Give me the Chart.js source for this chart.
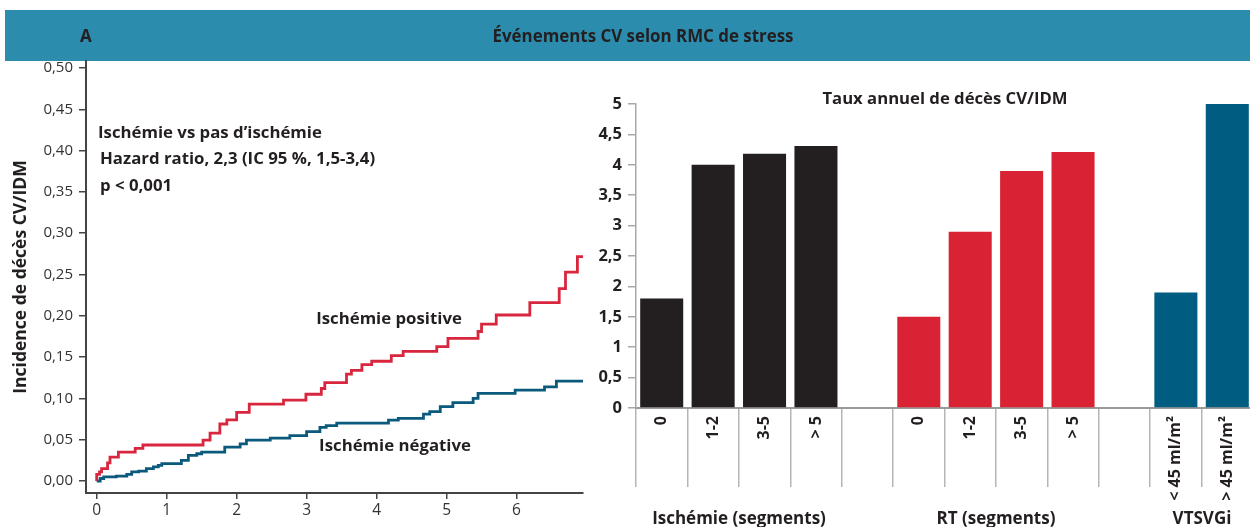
<!DOCTYPE html>
<html><head><meta charset="utf-8">
<script src="https://cdn.jsdelivr.net/npm/chart.js@4"></script>
<style>
html,body{margin:0;padding:0;width:1250px;height:527px;overflow:hidden;background:#fff;font-family:"Open Sans", sans-serif;}
#banner{position:absolute;left:5px;top:10px;width:1245px;height:51px;background:#2b8cae;}
.t{position:absolute;white-space:nowrap;font-weight:bold;color:#231f20;transform:translateY(-50%);}
.c{transform:translate(-50%,-50%);}
canvas{position:absolute;}
</style></head><body>
<div id="banner"></div>
<canvas id="km" width="600" height="527" style="left:0;top:0"></canvas>
<canvas id="bars" width="700" height="527" style="left:560px;top:0"></canvas>
<div class="t" style="left:80px;top:35px;font-size:17px">A</div>
<div class="t c" style="left:643px;top:35px;font-size:16.9px">Événements CV selon RMC de stress</div>
<div class="t" style="left:98px;top:131px;font-size:16.8px">Ischémie vs pas d’ischémie</div>
<div class="t" style="left:100px;top:157px;font-size:16.8px">Hazard ratio, 2,3 (IC 95 %, 1,5-3,4)</div>
<div class="t" style="left:100px;top:184px;font-size:16.8px">p &lt; 0,001</div>
<div class="t c" style="left:389px;top:317px;font-size:16.8px">Ischémie positive</div>
<div class="t c" style="left:395px;top:444px;font-size:16.8px">Ischémie négative</div>
<div class="t c" style="left:945px;top:97px;font-size:16.7px">Taux annuel de décès CV/IDM</div>
<div class="t c" style="left:739px;top:517px;font-size:17px">Ischémie (segments)</div>
<div class="t c" style="left:996px;top:517px;font-size:17px">RT (segments)</div>
<div class="t c" style="left:1202px;top:517px;font-size:17px">VTSVGi</div>
<script>
// ---- Kaplan-Meier data (years, cumulative incidence) ----
const redTimes = [0, 0, 0.04, 0.07, 0.155, 0.19, 0.31, 0.55, 0.66, 1.52, 1.62, 1.76, 1.86, 2.0, 2.18, 2.67, 2.99, 3.21, 3.26, 3.57, 3.64, 3.79, 3.93, 4.21, 4.38, 4.86, 5.02, 5.45, 5.50, 5.71, 6.19, 6.61, 6.70, 6.87, 6.96];
const redValues = [0, 0.008, 0.011, 0.015, 0.022, 0.029, 0.035, 0.0396, 0.0436, 0.0496, 0.058, 0.069, 0.074, 0.083, 0.093, 0.098, 0.105, 0.112, 0.119, 0.1295, 0.134, 0.141, 0.145, 0.1517, 0.157, 0.1626, 0.1727, 0.181, 0.190, 0.201, 0.216, 0.233, 0.253, 0.2716, 0.2716];
const blueTimes = [0, 0.05, 0.10, 0.28, 0.43, 0.50, 0.60, 0.71, 0.81, 0.88, 0.93, 1.21, 1.31, 1.43, 1.50, 1.83, 2.05, 2.14, 2.48, 2.76, 3.00, 3.19, 3.28, 3.43, 4.17, 4.31, 4.67, 4.76, 4.91, 5.09, 5.38, 5.45, 5.98, 6.40, 6.57, 6.96];
const blueValues = [0, 0.003, 0.005, 0.006, 0.008, 0.011, 0.012, 0.015, 0.017, 0.019, 0.021, 0.025, 0.031, 0.033, 0.035, 0.041, 0.045, 0.0496, 0.052, 0.055, 0.0597, 0.065, 0.067, 0.070, 0.0738, 0.0759, 0.081, 0.084, 0.090, 0.0948, 0.100, 0.106, 0.110, 0.114, 0.121, 0.121];
const kmXTicks = [0, 1, 2, 3, 4, 5, 6];
const kmYTicks = [0, 0.05, 0.10, 0.15, 0.20, 0.25, 0.30, 0.35, 0.40, 0.45, 0.50];

// ---- Bar chart data ----
const barCategories = ['0', '1-2', '3-5', '> 5', '', '0', '1-2', '3-5', '> 5', '', '< 45 ml/m²', '> 45 ml/m²'];
const ischemieRates = [1.8, 4.0, 4.18, 4.31];
const rtRates = [1.5, 2.9, 3.9, 4.21];
const vtsvgiRates = [1.9, 5.0];
const barYTicks = [0, 0.5, 1, 1.5, 2, 2.5, 3, 3.5, 4, 4.5, 5];

const BLACK = '#231f20', RED = '#d92233', TEAL = '#005c80';
const FONT = '"Open Sans"';

const toPts = (ts, vs) => ts.map((t, i) => ({x: t, y: vs[i]}));

new Chart(document.getElementById('km'), {
  type: 'line',
  data: {
    datasets: [
      {data: toPts(redTimes, redValues), borderColor: '#d7263d', borderWidth: 2.8, stepped: true, pointRadius: 0, fill: false},
      {data: toPts(blueTimes, blueValues), borderColor: '#0b5a7d', borderWidth: 2.8, stepped: true, pointRadius: 0, fill: false}
    ]
  },
  options: {
    responsive: false, animation: false, devicePixelRatio: 1,
    layout: {padding: {top: 61, right: 17, left: 0, bottom: 0}},
    plugins: {legend: {display: false}, tooltip: {enabled: false}},
    scales: {
      x: {
        type: 'linear', min: -0.153, max: 6.95,
        afterBuildTicks: s => { s.ticks = kmXTicks.map(v => ({value: v})); },
        afterFit: s => { s.height = 34; },
        ticks: {callback: v => String(v), font: {family: FONT, size: 15.5}, color: '#333', padding: 2, maxRotation: 0},
        grid: {drawOnChartArea: false, drawTicks: true, tickLength: 6, color: '#444', lineWidth: 1.5},
        border: {display: true, color: '#444', width: 2}
      },
      y: {
        type: 'linear', min: -0.01453, max: 0.5085,
        afterBuildTicks: s => { s.ticks = kmYTicks.map(v => ({value: v})); },
        afterFit: s => { s.width = 86; },
        ticks: {callback: v => v.toFixed(2).replace('.', ','), font: {family: FONT, size: 15}, color: '#333', padding: 6},
        grid: {drawOnChartArea: false, drawTicks: true, tickLength: 7, color: '#444', lineWidth: 1.5},
        border: {display: true, color: '#444', width: 2},
        title: {display: true, text: 'Incidence de décès CV/IDM', font: {family: FONT, size: 17.5, weight: 'bold'}, color: BLACK, padding: {top: 11, bottom: 0}}
      }
    }
  }
});

const barData = [...ischemieRates, null, ...rtRates, null, ...vtsvgiRates];
const barColors = [...ischemieRates.map(() => BLACK), 'rgba(0,0,0,0)', ...rtRates.map(() => RED), 'rgba(0,0,0,0)', ...vtsvgiRates.map(() => TEAL)];

new Chart(document.getElementById('bars'), {
  type: 'bar',
  data: {
    labels: barCategories,
    datasets: [{data: barData, backgroundColor: barColors, borderWidth: 0, barPercentage: 0.837, categoryPercentage: 1}]
  },
  options: {
    responsive: false, animation: false, devicePixelRatio: 1,
    layout: {padding: {top: 104, right: 7, left: 0, bottom: 0}},
    plugins: {legend: {display: false}, tooltip: {enabled: false}},
    scales: {
      x: {
        afterFit: s => { s.height = 119; },
        ticks: {autoSkip: false, minRotation: 90, maxRotation: 90, font: {family: FONT, size: 16, weight: 'bold'}, color: BLACK, padding: -71},
        grid: {offset: true, drawOnChartArea: false, drawTicks: true, tickLength: 79, color: '#b5b5b5', lineWidth: 1.5},
        border: {display: true, color: '#9a9a9a', width: 2}
      },
      y: {
        min: 0, max: 5,
        afterBuildTicks: s => { s.ticks = barYTicks.map(v => ({value: v})); },
        afterFit: s => { s.width = 76; },
        ticks: {callback: v => String(v).replace('.', ','), font: {family: FONT, size: 16.5, weight: 'bold'}, color: BLACK, padding: 6},
        grid: {drawOnChartArea: false, drawTicks: true, tickLength: 8, color: '#a8a8a8', lineWidth: 1.5},
        border: {display: true, color: '#a8a8a8', width: 1.5}
      }
    }
  }
});
</script>
</body></html>
